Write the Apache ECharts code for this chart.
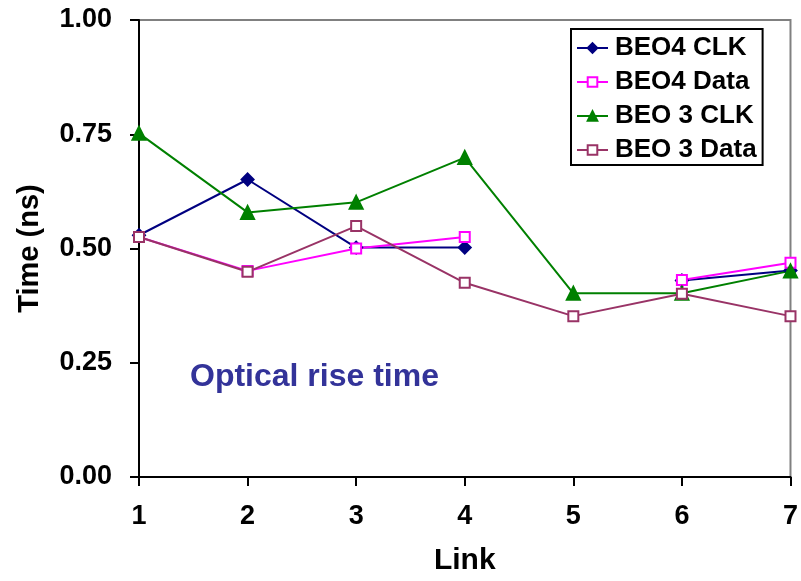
<!DOCTYPE html>
<html>
<head>
<meta charset="utf-8">
<script src="https://cdn.jsdelivr.net/npm/echarts@6/dist/echarts.min.js"></script>
<style>
  html, body { margin: 0; padding: 0; background: #fff; }
  #chart { width: 801px; height: 581px; }
</style>
</head>
<body>
<div id="chart"></div>
<script>
// Link numbers along the x axis
const links = [1, 2, 3, 4, 5, 6, 7];
const yTicks = [0, 0.25, 0.5, 0.75, 1.0];

// Rise time in ns per link (null = not measured)
const beo4Clk  = [0.529, 0.651, 0.502, 0.502, null, 0.430, 0.452];
const beo4Data = [0.525, 0.451, 0.500, 0.525, null, 0.431, 0.469];
const beo3Clk  = [0.752, 0.579, 0.601, 0.699, 0.402, 0.402, 0.451];
const beo3Data = [0.525, 0.449, 0.549, 0.425, 0.352, 0.401, 0.352];

const seriesNames = ['BEO4 CLK', 'BEO4 Data', 'BEO 3 CLK', 'BEO 3 Data'];

const FONT = '"Liberation Sans", Arial, sans-serif';

function pairs(vals) {
  return links.map((x, i) => [x, vals[i] == null ? '-' : vals[i]]);
}

function lineSeries(name, vals, color, symbol, size, fill) {
  return {
    name: name,
    type: 'line',
    data: pairs(vals),
    connectNulls: false,
    symbol: symbol,
    symbolSize: size,
    showAllSymbol: true,
    lineStyle: { color: color, width: 2 },
    itemStyle: { color: fill, borderColor: color, borderWidth: 2 },
    emphasis: { disabled: true }
  };
}

const chart = echarts.init(document.getElementById('chart'), null, { renderer: 'canvas' });

chart.setOption({
  animation: false,
  backgroundColor: '#ffffff',
  grid: {
    left: 139, right: 8, top: 20, bottom: 98,
    show: true, borderColor: '#808080', borderWidth: 2, backgroundColor: 'transparent'
  },
  xAxis: {
    type: 'value',
    min: 1, max: 7, interval: 1,
    name: 'Link',
    nameLocation: 'middle',
    nameGap: 69,
    nameTextStyle: { fontFamily: FONT, fontWeight: 'bold', fontSize: 30, color: '#000' },
    axisLine: { show: true, lineStyle: { color: '#000', width: 2 } },
    axisTick: { show: true, length: 9, lineStyle: { color: '#000', width: 2 } },
    axisLabel: { fontFamily: FONT, fontWeight: 'bold', fontSize: 27, color: '#000', margin: 26 },
    splitLine: { show: false }
  },
  yAxis: {
    type: 'value',
    min: 0, max: 1, interval: 0.25,
    name: 'Time (ns)',
    nameLocation: 'middle',
    nameGap: 95,
    nameTextStyle: { fontFamily: FONT, fontWeight: 'bold', fontSize: 29, color: '#000' },
    axisLine: { show: true, lineStyle: { color: '#000', width: 2 } },
    axisTick: { show: true, length: 9, lineStyle: { color: '#000', width: 2 } },
    axisLabel: {
      fontFamily: FONT, fontWeight: 'bold', fontSize: 27, color: '#000', margin: 27,
      formatter: v => yTicks.includes(v) ? v.toFixed(2) : ''
    },
    splitLine: { show: false }
  },
  legend: {
    orient: 'vertical',
    left: 571, top: 29,
    padding: [6, 6, 2, 5],
    itemGap: 8,
    itemWidth: 31,
    itemHeight: 12,
    backgroundColor: '#fff',
    borderColor: '#000',
    borderWidth: 2,
    borderRadius: 0,
    selectedMode: false,
    data: seriesNames,
    textStyle: { fontFamily: FONT, fontWeight: 'bold', fontSize: 26, color: '#000', padding: [0, 0, 0, 2] }
  },
  graphic: [{
    type: 'text',
    left: 190, top: 361,
    style: {
      text: 'Optical rise time',
      fontFamily: FONT, fontWeight: 'bold', fontSize: 32, fill: '#333399'
    }
  }],
  series: [
    lineSeries(seriesNames[0], beo4Clk, '#000080', 'diamond', 12, '#000080'),
    lineSeries(seriesNames[1], beo4Data, '#ff00ff', 'rect', 10, '#ffffff'),
    lineSeries(seriesNames[2], beo3Clk, '#008000', 'triangle', 13, '#008000'),
    lineSeries(seriesNames[3], beo3Data, '#993366', 'rect', 10, '#ffffff')
  ]
});
</script>
</body>
</html>
